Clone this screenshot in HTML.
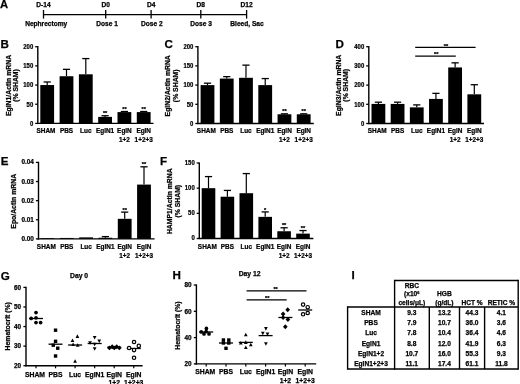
<!DOCTYPE html>
<html><head><meta charset="utf-8"><style>
html,body{margin:0;padding:0;background:#fff;}
body{width:520px;height:384px;overflow:hidden;}
svg{display:block;will-change:transform;}
text{font-family:"Liberation Sans",sans-serif;font-weight:bold;fill:#000;stroke:#000;stroke-width:0.25px;}
line{stroke:#000;stroke-linecap:butt;}
rect,polygon,circle{fill:#000;}
circle.o{fill:#fff;stroke:#000;stroke-width:1.2px;}
</style></head><body>
<svg width="520" height="384" viewBox="0 0 520 384">
<text x="0.00" y="8.30" font-size="11.2" text-anchor="start" >A</text>
<line x1="43.50" y1="14.60" x2="246.60" y2="14.60" stroke-width="1.3"/>
<line x1="43.50" y1="10.00" x2="43.50" y2="18.60" stroke-width="1.3"/>
<text x="43.50" y="7.20" font-size="6.6" text-anchor="middle" >D-14</text>
<text x="46.20" y="26.00" font-size="6.6" text-anchor="middle" >Nephrectomy</text>
<line x1="105.70" y1="10.00" x2="105.70" y2="18.60" stroke-width="1.3"/>
<text x="105.70" y="7.20" font-size="6.6" text-anchor="middle" >D0</text>
<text x="107.00" y="26.00" font-size="6.6" text-anchor="middle" >Dose 1</text>
<line x1="151.10" y1="10.00" x2="151.10" y2="18.60" stroke-width="1.3"/>
<text x="151.10" y="7.20" font-size="6.6" text-anchor="middle" >D4</text>
<text x="151.80" y="26.00" font-size="6.6" text-anchor="middle" >Dose 2</text>
<line x1="200.80" y1="10.00" x2="200.80" y2="18.60" stroke-width="1.3"/>
<text x="200.80" y="7.20" font-size="6.6" text-anchor="middle" >D8</text>
<text x="201.10" y="26.00" font-size="6.6" text-anchor="middle" >Dose 3</text>
<line x1="246.60" y1="10.00" x2="246.60" y2="18.60" stroke-width="1.3"/>
<text x="246.60" y="7.20" font-size="6.6" text-anchor="middle" >D12</text>
<text x="247.00" y="26.00" font-size="6.6" text-anchor="middle" >Bleed, Sac</text>
<text x="0.60" y="48.40" font-size="11.6" text-anchor="start" >B</text>
<line x1="37.80" y1="46.10" x2="37.80" y2="124.00" stroke-width="1.4"/>
<line x1="35.20" y1="123.40" x2="37.80" y2="123.40" stroke-width="1.3"/>
<text transform="translate(33.20,125.75) scale(0.9,1)" font-size="6.6" text-anchor="end" >0</text>
<line x1="35.20" y1="104.23" x2="37.80" y2="104.23" stroke-width="1.3"/>
<text transform="translate(33.20,106.58) scale(0.9,1)" font-size="6.6" text-anchor="end" >50</text>
<line x1="35.20" y1="85.05" x2="37.80" y2="85.05" stroke-width="1.3"/>
<text transform="translate(33.20,87.40) scale(0.9,1)" font-size="6.6" text-anchor="end" >100</text>
<line x1="35.20" y1="65.88" x2="37.80" y2="65.88" stroke-width="1.3"/>
<text transform="translate(33.20,68.22) scale(0.9,1)" font-size="6.6" text-anchor="end" >150</text>
<line x1="35.20" y1="46.70" x2="37.80" y2="46.70" stroke-width="1.3"/>
<text transform="translate(33.20,49.05) scale(0.9,1)" font-size="6.6" text-anchor="end" >200</text>
<rect x="40.30" y="85.05" width="13.80" height="38.35"/>
<line x1="47.20" y1="81.98" x2="47.20" y2="85.05" stroke-width="1.2"/>
<line x1="43.60" y1="81.98" x2="50.80" y2="81.98" stroke-width="1.3"/>
<rect x="59.60" y="76.23" width="13.80" height="47.17"/>
<line x1="66.50" y1="69.33" x2="66.50" y2="76.23" stroke-width="1.2"/>
<line x1="62.90" y1="69.33" x2="70.10" y2="69.33" stroke-width="1.3"/>
<rect x="78.90" y="74.31" width="13.80" height="49.09"/>
<line x1="85.80" y1="58.59" x2="85.80" y2="74.31" stroke-width="1.2"/>
<line x1="82.20" y1="58.59" x2="89.40" y2="58.59" stroke-width="1.3"/>
<rect x="98.20" y="116.88" width="13.80" height="6.52"/>
<line x1="105.10" y1="115.73" x2="105.10" y2="116.88" stroke-width="1.2"/>
<line x1="101.50" y1="115.73" x2="108.70" y2="115.73" stroke-width="1.3"/>
<text x="105.10" y="115.33" font-size="5.6" text-anchor="middle" >**</text>
<rect x="117.50" y="112.09" width="13.80" height="11.31"/>
<line x1="124.40" y1="111.51" x2="124.40" y2="112.09" stroke-width="1.2"/>
<line x1="120.80" y1="111.51" x2="128.00" y2="111.51" stroke-width="1.3"/>
<text x="124.40" y="111.11" font-size="5.6" text-anchor="middle" >**</text>
<rect x="136.80" y="112.09" width="13.80" height="11.31"/>
<line x1="143.70" y1="111.51" x2="143.70" y2="112.09" stroke-width="1.2"/>
<line x1="140.10" y1="111.51" x2="147.30" y2="111.51" stroke-width="1.3"/>
<text x="143.70" y="111.11" font-size="5.6" text-anchor="middle" >**</text>
<line x1="37.10" y1="123.40" x2="153.50" y2="123.40" stroke-width="1.4"/>
<text transform="translate(46.00,133.20) scale(0.93,1)" font-size="6.9" text-anchor="middle" >SHAM</text>
<text transform="translate(66.50,133.20) scale(0.93,1)" font-size="6.9" text-anchor="middle" >PBS</text>
<text transform="translate(85.80,133.20) scale(0.93,1)" font-size="6.9" text-anchor="middle" >Luc</text>
<text transform="translate(105.10,133.20) scale(0.93,1)" font-size="6.9" text-anchor="middle" >EglN1</text>
<text transform="translate(124.40,133.20) scale(0.93,1)" font-size="6.9" text-anchor="middle" >EglN</text>
<text transform="translate(124.40,141.70) scale(0.93,1)" font-size="6.9" text-anchor="middle" >1+2</text>
<text transform="translate(143.70,133.20) scale(0.93,1)" font-size="6.9" text-anchor="middle" >EglN</text>
<text transform="translate(143.70,141.70) scale(0.93,1)" font-size="6.9" text-anchor="middle" >1+2+3</text>
<text transform="translate(10.60,85.50) rotate(-90)" x="0" y="0" font-size="6.85" text-anchor="middle" >EglN1/Actin mRNA</text>
<text transform="translate(17.90,85.50) rotate(-90)" x="0" y="0" font-size="6.85" text-anchor="middle" >(% SHAM)</text>
<text x="164.40" y="48.40" font-size="11.6" text-anchor="start" >C</text>
<line x1="197.90" y1="46.10" x2="197.90" y2="124.10" stroke-width="1.4"/>
<line x1="195.30" y1="123.50" x2="197.90" y2="123.50" stroke-width="1.3"/>
<text transform="translate(193.30,125.85) scale(0.9,1)" font-size="6.6" text-anchor="end" >0</text>
<line x1="195.30" y1="104.30" x2="197.90" y2="104.30" stroke-width="1.3"/>
<text transform="translate(193.30,106.65) scale(0.9,1)" font-size="6.6" text-anchor="end" >50</text>
<line x1="195.30" y1="85.10" x2="197.90" y2="85.10" stroke-width="1.3"/>
<text transform="translate(193.30,87.45) scale(0.9,1)" font-size="6.6" text-anchor="end" >100</text>
<line x1="195.30" y1="65.90" x2="197.90" y2="65.90" stroke-width="1.3"/>
<text transform="translate(193.30,68.25) scale(0.9,1)" font-size="6.6" text-anchor="end" >150</text>
<line x1="195.30" y1="46.70" x2="197.90" y2="46.70" stroke-width="1.3"/>
<text transform="translate(193.30,49.05) scale(0.9,1)" font-size="6.6" text-anchor="end" >200</text>
<rect x="200.60" y="85.10" width="13.80" height="38.40"/>
<line x1="207.50" y1="83.18" x2="207.50" y2="85.10" stroke-width="1.2"/>
<line x1="203.90" y1="83.18" x2="211.10" y2="83.18" stroke-width="1.3"/>
<rect x="219.84" y="78.57" width="13.80" height="44.93"/>
<line x1="226.74" y1="76.65" x2="226.74" y2="78.57" stroke-width="1.2"/>
<line x1="223.14" y1="76.65" x2="230.34" y2="76.65" stroke-width="1.3"/>
<rect x="239.08" y="77.80" width="13.80" height="45.70"/>
<line x1="245.98" y1="65.13" x2="245.98" y2="77.80" stroke-width="1.2"/>
<line x1="242.38" y1="65.13" x2="249.58" y2="65.13" stroke-width="1.3"/>
<rect x="258.32" y="85.10" width="13.80" height="38.40"/>
<line x1="265.22" y1="78.57" x2="265.22" y2="85.10" stroke-width="1.2"/>
<line x1="261.62" y1="78.57" x2="268.82" y2="78.57" stroke-width="1.3"/>
<rect x="277.56" y="114.28" width="13.80" height="9.22"/>
<line x1="284.46" y1="113.82" x2="284.46" y2="114.28" stroke-width="1.2"/>
<line x1="280.86" y1="113.82" x2="288.06" y2="113.82" stroke-width="1.3"/>
<text x="284.46" y="113.42" font-size="5.6" text-anchor="middle" >**</text>
<rect x="296.80" y="114.28" width="13.80" height="9.22"/>
<line x1="303.70" y1="113.82" x2="303.70" y2="114.28" stroke-width="1.2"/>
<line x1="300.10" y1="113.82" x2="307.30" y2="113.82" stroke-width="1.3"/>
<text x="303.70" y="113.42" font-size="5.6" text-anchor="middle" >**</text>
<line x1="197.20" y1="123.50" x2="313.80" y2="123.50" stroke-width="1.4"/>
<text transform="translate(206.30,133.20) scale(0.93,1)" font-size="6.9" text-anchor="middle" >SHAM</text>
<text transform="translate(226.74,133.20) scale(0.93,1)" font-size="6.9" text-anchor="middle" >PBS</text>
<text transform="translate(245.98,133.20) scale(0.93,1)" font-size="6.9" text-anchor="middle" >Luc</text>
<text transform="translate(265.22,133.20) scale(0.93,1)" font-size="6.9" text-anchor="middle" >EglN1</text>
<text transform="translate(284.46,133.20) scale(0.93,1)" font-size="6.9" text-anchor="middle" >EglN</text>
<text transform="translate(284.46,141.70) scale(0.93,1)" font-size="6.9" text-anchor="middle" >1+2</text>
<text transform="translate(303.70,133.20) scale(0.93,1)" font-size="6.9" text-anchor="middle" >EglN</text>
<text transform="translate(303.70,141.70) scale(0.93,1)" font-size="6.9" text-anchor="middle" >1+2+3</text>
<text transform="translate(170.20,85.80) rotate(-90)" x="0" y="0" font-size="6.85" text-anchor="middle" >EglN2/Actin mRNA</text>
<text transform="translate(177.70,85.80) rotate(-90)" x="0" y="0" font-size="6.85" text-anchor="middle" >(% SHAM)</text>
<text x="335.40" y="48.40" font-size="11.6" text-anchor="start" >D</text>
<line x1="368.80" y1="46.10" x2="368.80" y2="124.10" stroke-width="1.4"/>
<line x1="366.20" y1="123.50" x2="368.80" y2="123.50" stroke-width="1.3"/>
<text transform="translate(364.20,125.85) scale(0.9,1)" font-size="6.6" text-anchor="end" >0</text>
<line x1="366.20" y1="104.30" x2="368.80" y2="104.30" stroke-width="1.3"/>
<text transform="translate(364.20,106.65) scale(0.9,1)" font-size="6.6" text-anchor="end" >100</text>
<line x1="366.20" y1="85.10" x2="368.80" y2="85.10" stroke-width="1.3"/>
<text transform="translate(364.20,87.45) scale(0.9,1)" font-size="6.6" text-anchor="end" >200</text>
<line x1="366.20" y1="65.90" x2="368.80" y2="65.90" stroke-width="1.3"/>
<text transform="translate(364.20,68.25) scale(0.9,1)" font-size="6.6" text-anchor="end" >300</text>
<line x1="366.20" y1="46.70" x2="368.80" y2="46.70" stroke-width="1.3"/>
<text transform="translate(364.20,49.05) scale(0.9,1)" font-size="6.6" text-anchor="end" >400</text>
<rect x="371.50" y="103.92" width="13.80" height="19.58"/>
<line x1="378.40" y1="102.19" x2="378.40" y2="103.92" stroke-width="1.2"/>
<line x1="374.80" y1="102.19" x2="382.00" y2="102.19" stroke-width="1.3"/>
<rect x="390.68" y="103.92" width="13.80" height="19.58"/>
<line x1="397.58" y1="102.19" x2="397.58" y2="103.92" stroke-width="1.2"/>
<line x1="393.98" y1="102.19" x2="401.18" y2="102.19" stroke-width="1.3"/>
<rect x="409.86" y="107.37" width="13.80" height="16.13"/>
<line x1="416.76" y1="104.88" x2="416.76" y2="107.37" stroke-width="1.2"/>
<line x1="413.16" y1="104.88" x2="420.36" y2="104.88" stroke-width="1.3"/>
<rect x="429.04" y="98.92" width="13.80" height="24.58"/>
<line x1="435.94" y1="93.36" x2="435.94" y2="98.92" stroke-width="1.2"/>
<line x1="432.34" y1="93.36" x2="439.54" y2="93.36" stroke-width="1.3"/>
<rect x="448.22" y="67.44" width="13.80" height="56.06"/>
<line x1="455.12" y1="62.83" x2="455.12" y2="67.44" stroke-width="1.2"/>
<line x1="451.52" y1="62.83" x2="458.72" y2="62.83" stroke-width="1.3"/>
<rect x="467.40" y="94.32" width="13.80" height="29.18"/>
<line x1="474.30" y1="84.72" x2="474.30" y2="94.32" stroke-width="1.2"/>
<line x1="470.70" y1="84.72" x2="477.90" y2="84.72" stroke-width="1.3"/>
<line x1="368.10" y1="123.50" x2="484.00" y2="123.50" stroke-width="1.4"/>
<text transform="translate(377.20,133.20) scale(0.93,1)" font-size="6.9" text-anchor="middle" >SHAM</text>
<text transform="translate(397.58,133.20) scale(0.93,1)" font-size="6.9" text-anchor="middle" >PBS</text>
<text transform="translate(416.76,133.20) scale(0.93,1)" font-size="6.9" text-anchor="middle" >Luc</text>
<text transform="translate(435.94,133.20) scale(0.93,1)" font-size="6.9" text-anchor="middle" >EglN1</text>
<text transform="translate(455.12,133.20) scale(0.93,1)" font-size="6.9" text-anchor="middle" >EglN</text>
<text transform="translate(455.12,141.70) scale(0.93,1)" font-size="6.9" text-anchor="middle" >1+2</text>
<text transform="translate(474.30,133.20) scale(0.93,1)" font-size="6.9" text-anchor="middle" >EglN</text>
<text transform="translate(474.30,141.70) scale(0.93,1)" font-size="6.9" text-anchor="middle" >1+2+3</text>
<text transform="translate(340.60,85.30) rotate(-90)" x="0" y="0" font-size="6.85" text-anchor="middle" >EglN3/Actin mRNA</text>
<text transform="translate(347.80,85.30) rotate(-90)" x="0" y="0" font-size="6.85" text-anchor="middle" >(% SHAM)</text>
<line x1="415.20" y1="47.30" x2="475.60" y2="47.30" stroke-width="1.3"/>
<text x="445.90" y="47.80" font-size="5.6" text-anchor="middle" >**</text>
<line x1="415.20" y1="56.20" x2="455.80" y2="56.20" stroke-width="1.3"/>
<text x="436.30" y="56.40" font-size="5.6" text-anchor="middle" >**</text>
<text x="0.80" y="164.90" font-size="11.6" text-anchor="start" >E</text>
<line x1="38.50" y1="161.80" x2="38.50" y2="239.50" stroke-width="1.4"/>
<line x1="35.90" y1="238.90" x2="38.50" y2="238.90" stroke-width="1.3"/>
<text transform="translate(33.90,240.90) scale(0.97,1)" font-size="6.6" text-anchor="end" >0.00</text>
<line x1="35.90" y1="219.78" x2="38.50" y2="219.78" stroke-width="1.3"/>
<text transform="translate(33.90,221.78) scale(0.97,1)" font-size="6.6" text-anchor="end" >0.01</text>
<line x1="35.90" y1="200.65" x2="38.50" y2="200.65" stroke-width="1.3"/>
<text transform="translate(33.90,202.65) scale(0.97,1)" font-size="6.6" text-anchor="end" >0.02</text>
<line x1="35.90" y1="181.53" x2="38.50" y2="181.53" stroke-width="1.3"/>
<text transform="translate(33.90,183.53) scale(0.97,1)" font-size="6.6" text-anchor="end" >0.03</text>
<line x1="35.90" y1="162.40" x2="38.50" y2="162.40" stroke-width="1.3"/>
<text transform="translate(33.90,164.40) scale(0.97,1)" font-size="6.6" text-anchor="end" >0.04</text>
<rect x="40.60" y="238.14" width="13.80" height="0.76"/>
<rect x="59.90" y="237.94" width="13.80" height="0.96"/>
<rect x="79.20" y="237.37" width="13.80" height="1.53"/>
<rect x="98.50" y="237.75" width="13.80" height="1.15"/>
<line x1="105.40" y1="236.61" x2="105.40" y2="237.75" stroke-width="1.2"/>
<line x1="101.80" y1="236.61" x2="109.00" y2="236.61" stroke-width="1.3"/>
<rect x="117.80" y="218.82" width="13.80" height="20.08"/>
<line x1="124.70" y1="212.12" x2="124.70" y2="218.82" stroke-width="1.2"/>
<line x1="121.10" y1="212.12" x2="128.30" y2="212.12" stroke-width="1.3"/>
<text x="124.70" y="211.73" font-size="5.6" text-anchor="middle" >**</text>
<rect x="137.10" y="184.59" width="13.80" height="54.31"/>
<line x1="144.00" y1="166.80" x2="144.00" y2="184.59" stroke-width="1.2"/>
<line x1="140.40" y1="166.80" x2="147.60" y2="166.80" stroke-width="1.3"/>
<text x="144.00" y="166.40" font-size="5.6" text-anchor="middle" >**</text>
<line x1="37.80" y1="238.90" x2="154.60" y2="238.90" stroke-width="1.4"/>
<text transform="translate(46.30,248.90) scale(0.93,1)" font-size="6.9" text-anchor="middle" >SHAM</text>
<text transform="translate(66.80,248.90) scale(0.93,1)" font-size="6.9" text-anchor="middle" >PBS</text>
<text transform="translate(86.10,248.90) scale(0.93,1)" font-size="6.9" text-anchor="middle" >Luc</text>
<text transform="translate(105.40,248.90) scale(0.93,1)" font-size="6.9" text-anchor="middle" >EglN1</text>
<text transform="translate(124.70,248.90) scale(0.93,1)" font-size="6.9" text-anchor="middle" >EglN</text>
<text transform="translate(124.70,257.80) scale(0.93,1)" font-size="6.9" text-anchor="middle" >1+2</text>
<text transform="translate(144.00,248.90) scale(0.93,1)" font-size="6.9" text-anchor="middle" >EglN</text>
<text transform="translate(144.00,257.80) scale(0.93,1)" font-size="6.9" text-anchor="middle" >1+2+3</text>
<text transform="translate(15.80,201.30) rotate(-90)" x="0" y="0" font-size="6.85" text-anchor="middle" >Epo/Actin mRNA</text>
<text x="159.90" y="164.90" font-size="11.6" text-anchor="start" >F</text>
<line x1="199.30" y1="162.40" x2="199.30" y2="239.10" stroke-width="1.4"/>
<line x1="196.70" y1="238.50" x2="199.30" y2="238.50" stroke-width="1.3"/>
<text transform="translate(194.70,240.00) scale(0.9,1)" font-size="6.6" text-anchor="end" >0</text>
<line x1="196.70" y1="213.33" x2="199.30" y2="213.33" stroke-width="1.3"/>
<text transform="translate(194.70,214.83) scale(0.9,1)" font-size="6.6" text-anchor="end" >50</text>
<line x1="196.70" y1="188.17" x2="199.30" y2="188.17" stroke-width="1.3"/>
<text transform="translate(194.70,189.67) scale(0.9,1)" font-size="6.6" text-anchor="end" >100</text>
<line x1="196.70" y1="163.00" x2="199.30" y2="163.00" stroke-width="1.3"/>
<text transform="translate(194.70,164.50) scale(0.9,1)" font-size="6.6" text-anchor="end" >150</text>
<rect x="201.70" y="188.17" width="13.60" height="50.33"/>
<line x1="208.50" y1="176.59" x2="208.50" y2="188.17" stroke-width="1.2"/>
<line x1="204.90" y1="176.59" x2="212.10" y2="176.59" stroke-width="1.3"/>
<rect x="220.60" y="196.72" width="13.60" height="41.78"/>
<line x1="227.40" y1="190.43" x2="227.40" y2="196.72" stroke-width="1.2"/>
<line x1="223.80" y1="190.43" x2="231.00" y2="190.43" stroke-width="1.3"/>
<rect x="239.50" y="193.20" width="13.60" height="45.30"/>
<line x1="246.30" y1="173.57" x2="246.30" y2="193.20" stroke-width="1.2"/>
<line x1="242.70" y1="173.57" x2="249.90" y2="173.57" stroke-width="1.3"/>
<rect x="258.40" y="216.86" width="13.60" height="21.64"/>
<line x1="265.20" y1="211.92" x2="265.20" y2="216.86" stroke-width="1.2"/>
<line x1="261.60" y1="211.92" x2="268.80" y2="211.92" stroke-width="1.3"/>
<text x="265.20" y="211.52" font-size="5.6" text-anchor="middle" >*</text>
<rect x="277.30" y="231.25" width="13.60" height="7.25"/>
<line x1="284.10" y1="227.78" x2="284.10" y2="231.25" stroke-width="1.2"/>
<line x1="280.50" y1="227.78" x2="287.70" y2="227.78" stroke-width="1.3"/>
<text x="284.10" y="227.38" font-size="5.6" text-anchor="middle" >**</text>
<rect x="296.20" y="233.62" width="13.60" height="4.88"/>
<line x1="303.00" y1="230.55" x2="303.00" y2="233.62" stroke-width="1.2"/>
<line x1="299.40" y1="230.55" x2="306.60" y2="230.55" stroke-width="1.3"/>
<text x="303.00" y="230.15" font-size="5.6" text-anchor="middle" >**</text>
<line x1="198.60" y1="238.50" x2="313.40" y2="238.50" stroke-width="1.4"/>
<text transform="translate(207.30,248.90) scale(0.93,1)" font-size="6.9" text-anchor="middle" >SHAM</text>
<text transform="translate(227.40,248.90) scale(0.93,1)" font-size="6.9" text-anchor="middle" >PBS</text>
<text transform="translate(246.30,248.90) scale(0.93,1)" font-size="6.9" text-anchor="middle" >Luc</text>
<text transform="translate(265.20,248.90) scale(0.93,1)" font-size="6.9" text-anchor="middle" >EglN1</text>
<text transform="translate(284.10,248.90) scale(0.93,1)" font-size="6.9" text-anchor="middle" >EglN</text>
<text transform="translate(284.10,257.80) scale(0.93,1)" font-size="6.9" text-anchor="middle" >1+2</text>
<text transform="translate(303.00,248.90) scale(0.93,1)" font-size="6.9" text-anchor="middle" >EglN</text>
<text transform="translate(303.00,257.80) scale(0.93,1)" font-size="6.9" text-anchor="middle" >1+2+3</text>
<text transform="translate(172.00,201.20) rotate(-90)" x="0" y="0" font-size="6.85" text-anchor="middle" >HAMP1/Actin mRNA</text>
<text transform="translate(179.60,201.20) rotate(-90)" x="0" y="0" font-size="6.85" text-anchor="middle" >(% SHAM)</text>
<text x="0.80" y="280.00" font-size="11.6" text-anchor="start" >G</text>
<text x="79.10" y="278.20" font-size="6.8" text-anchor="middle" >Day 0</text>
<line x1="26.00" y1="286.80" x2="26.00" y2="366.30" stroke-width="1.4"/>
<line x1="23.40" y1="365.70" x2="26.00" y2="365.70" stroke-width="1.3"/>
<text x="21.10" y="368.00" font-size="6.4" text-anchor="end" >20</text>
<line x1="23.40" y1="346.12" x2="26.00" y2="346.12" stroke-width="1.3"/>
<text x="21.10" y="348.43" font-size="6.4" text-anchor="end" >30</text>
<line x1="23.40" y1="326.55" x2="26.00" y2="326.55" stroke-width="1.3"/>
<text x="21.10" y="328.85" font-size="6.4" text-anchor="end" >40</text>
<line x1="23.40" y1="306.97" x2="26.00" y2="306.97" stroke-width="1.3"/>
<text x="21.10" y="309.27" font-size="6.4" text-anchor="end" >50</text>
<line x1="23.40" y1="287.40" x2="26.00" y2="287.40" stroke-width="1.3"/>
<text x="21.10" y="289.70" font-size="6.4" text-anchor="end" >60</text>
<line x1="25.30" y1="365.70" x2="142.60" y2="365.70" stroke-width="1.4"/>
<line x1="36.00" y1="365.70" x2="36.00" y2="368.30" stroke-width="1.2"/>
<text x="35.00" y="376.50" font-size="6.8" text-anchor="middle" >SHAM</text>
<line x1="55.55" y1="365.70" x2="55.55" y2="368.30" stroke-width="1.2"/>
<text x="55.55" y="376.50" font-size="6.8" text-anchor="middle" >PBS</text>
<line x1="75.10" y1="365.70" x2="75.10" y2="368.30" stroke-width="1.2"/>
<text x="75.10" y="376.50" font-size="6.8" text-anchor="middle" >Luc</text>
<line x1="94.65" y1="365.70" x2="94.65" y2="368.30" stroke-width="1.2"/>
<text x="94.65" y="376.50" font-size="6.8" text-anchor="middle" >EglN1</text>
<line x1="114.20" y1="365.70" x2="114.20" y2="368.30" stroke-width="1.2"/>
<text x="114.20" y="376.50" font-size="6.8" text-anchor="middle" >EglN</text>
<text x="114.20" y="384.60" font-size="6.8" text-anchor="middle" >1+2</text>
<line x1="133.75" y1="365.70" x2="133.75" y2="368.30" stroke-width="1.2"/>
<text x="133.75" y="376.50" font-size="6.8" text-anchor="middle" >EglN</text>
<text x="133.75" y="384.60" font-size="6.8" text-anchor="middle" >1+2+3</text>
<circle cx="36.00" cy="312.60" r="1.85"/>
<circle cx="31.20" cy="318.40" r="1.85"/>
<circle cx="36.00" cy="317.80" r="1.85"/>
<circle cx="36.00" cy="322.60" r="1.85"/>
<circle cx="40.60" cy="322.60" r="1.85"/>
<line x1="29.00" y1="318.50" x2="43.00" y2="318.50" stroke-width="1.3"/>
<rect x="53.85" y="328.50" width="3.40" height="3.40"/>
<rect x="53.85" y="339.60" width="3.40" height="3.40"/>
<rect x="51.55" y="343.50" width="3.40" height="3.40"/>
<rect x="56.05" y="346.50" width="3.40" height="3.40"/>
<rect x="53.85" y="354.30" width="3.40" height="3.40"/>
<line x1="48.55" y1="344.20" x2="62.55" y2="344.20" stroke-width="1.3"/>
<polygon points="77.40,334.35 79.26,337.89 75.54,337.89"/>
<polygon points="72.50,338.55 74.36,342.09 70.64,342.09"/>
<polygon points="73.10,342.55 74.96,346.09 71.24,346.09"/>
<polygon points="77.70,343.15 79.56,346.69 75.84,346.69"/>
<polygon points="75.10,359.15 76.96,362.69 73.24,362.69"/>
<line x1="68.10" y1="345.00" x2="82.10" y2="345.00" stroke-width="1.3"/>
<polygon points="94.65,339.45 96.51,335.91 92.79,335.91"/>
<polygon points="90.05,344.75 91.91,341.21 88.19,341.21"/>
<polygon points="99.25,342.95 101.11,339.41 97.39,339.41"/>
<polygon points="94.65,346.35 96.51,342.81 92.79,342.81"/>
<polygon points="94.65,350.85 96.51,347.31 92.79,347.31"/>
<line x1="87.65" y1="343.50" x2="101.65" y2="343.50" stroke-width="1.3"/>
<polygon points="109.40,345.45 111.73,347.90 109.40,350.35 107.07,347.90"/>
<polygon points="112.20,344.25 114.53,346.70 112.20,349.15 109.87,346.70"/>
<polygon points="114.30,345.45 116.63,347.90 114.30,350.35 111.97,347.90"/>
<polygon points="116.70,344.25 119.03,346.70 116.70,349.15 114.37,346.70"/>
<polygon points="119.30,345.45 121.63,347.90 119.30,350.35 116.97,347.90"/>
<line x1="107.20" y1="347.20" x2="121.20" y2="347.20" stroke-width="1.3"/>
<line x1="126.75" y1="348.50" x2="140.75" y2="348.50" stroke-width="1.3"/>
<circle class="o" cx="134.05" cy="342.00" r="1.7"/>
<circle class="o" cx="138.80" cy="345.90" r="1.7"/>
<circle class="o" cx="129.10" cy="348.00" r="1.7"/>
<circle class="o" cx="134.05" cy="350.10" r="1.7"/>
<circle class="o" cx="134.05" cy="357.80" r="1.7"/>
<text transform="translate(10.00,326.30) rotate(-90)" x="0" y="0" font-size="6.85" text-anchor="middle" >Hematocrit (%)</text>
<text x="172.60" y="279.40" font-size="11.6" text-anchor="start" >H</text>
<text x="249.60" y="275.90" font-size="6.8" text-anchor="middle" >Day 12</text>
<line x1="196.40" y1="284.40" x2="196.40" y2="364.50" stroke-width="1.4"/>
<line x1="193.80" y1="363.90" x2="196.40" y2="363.90" stroke-width="1.3"/>
<text x="191.50" y="366.20" font-size="6.4" text-anchor="end" >20</text>
<line x1="193.80" y1="337.60" x2="196.40" y2="337.60" stroke-width="1.3"/>
<text x="191.50" y="339.90" font-size="6.4" text-anchor="end" >40</text>
<line x1="193.80" y1="311.30" x2="196.40" y2="311.30" stroke-width="1.3"/>
<text x="191.50" y="313.60" font-size="6.4" text-anchor="end" >60</text>
<line x1="193.80" y1="285.00" x2="196.40" y2="285.00" stroke-width="1.3"/>
<text x="191.50" y="287.30" font-size="6.4" text-anchor="end" >80</text>
<line x1="195.70" y1="363.90" x2="316.20" y2="363.90" stroke-width="1.4"/>
<line x1="206.20" y1="363.90" x2="206.20" y2="366.50" stroke-width="1.2"/>
<text x="205.20" y="374.10" font-size="6.8" text-anchor="middle" >SHAM</text>
<line x1="226.00" y1="363.90" x2="226.00" y2="366.50" stroke-width="1.2"/>
<text x="226.00" y="374.10" font-size="6.8" text-anchor="middle" >PBS</text>
<line x1="245.80" y1="363.90" x2="245.80" y2="366.50" stroke-width="1.2"/>
<text x="245.80" y="374.10" font-size="6.8" text-anchor="middle" >Luc</text>
<line x1="265.60" y1="363.90" x2="265.60" y2="366.50" stroke-width="1.2"/>
<text x="265.60" y="374.10" font-size="6.8" text-anchor="middle" >EglN1</text>
<line x1="285.40" y1="363.90" x2="285.40" y2="366.50" stroke-width="1.2"/>
<text x="285.40" y="374.10" font-size="6.8" text-anchor="middle" >EglN</text>
<text x="285.40" y="382.60" font-size="6.8" text-anchor="middle" >1+2</text>
<line x1="305.20" y1="363.90" x2="305.20" y2="366.50" stroke-width="1.2"/>
<text x="305.20" y="374.10" font-size="6.8" text-anchor="middle" >EglN</text>
<text x="305.20" y="382.60" font-size="6.8" text-anchor="middle" >1+2+3</text>
<circle cx="206.40" cy="328.40" r="1.85"/>
<circle cx="201.20" cy="331.90" r="1.85"/>
<circle cx="204.00" cy="333.90" r="1.85"/>
<circle cx="209.00" cy="333.90" r="1.85"/>
<circle cx="206.20" cy="331.60" r="1.85"/>
<line x1="199.20" y1="332.00" x2="213.20" y2="332.00" stroke-width="1.3"/>
<rect x="221.70" y="338.30" width="3.40" height="3.40"/>
<rect x="227.10" y="338.30" width="3.40" height="3.40"/>
<rect x="221.70" y="341.30" width="3.40" height="3.40"/>
<rect x="227.10" y="341.30" width="3.40" height="3.40"/>
<rect x="224.30" y="346.60" width="3.40" height="3.40"/>
<line x1="219.00" y1="343.00" x2="233.00" y2="343.00" stroke-width="1.3"/>
<polygon points="245.80,332.65 247.66,336.19 243.94,336.19"/>
<polygon points="240.80,340.95 242.66,344.49 238.94,344.49"/>
<polygon points="245.80,340.35 247.66,343.89 243.94,343.89"/>
<polygon points="250.80,342.65 252.66,346.19 248.94,346.19"/>
<polygon points="245.80,345.45 247.66,348.99 243.94,348.99"/>
<line x1="238.80" y1="342.40" x2="252.80" y2="342.40" stroke-width="1.3"/>
<polygon points="265.90,330.65 267.76,327.11 264.04,327.11"/>
<polygon points="262.80,335.25 264.66,331.71 260.94,331.71"/>
<polygon points="267.50,336.05 269.36,332.51 265.64,332.51"/>
<polygon points="265.90,345.75 267.76,342.21 264.04,342.21"/>
<line x1="258.60" y1="335.60" x2="272.60" y2="335.60" stroke-width="1.3"/>
<polygon points="287.70,307.35 290.03,309.80 287.70,312.25 285.37,309.80"/>
<polygon points="283.10,311.55 285.43,314.00 283.10,316.45 280.77,314.00"/>
<polygon points="287.90,317.05 290.23,319.50 287.90,321.95 285.57,319.50"/>
<polygon points="283.10,315.15 285.43,317.60 283.10,320.05 280.77,317.60"/>
<polygon points="285.30,324.25 287.63,326.70 285.30,329.15 282.97,326.70"/>
<line x1="278.40" y1="317.50" x2="292.40" y2="317.50" stroke-width="1.3"/>
<line x1="298.20" y1="310.00" x2="312.20" y2="310.00" stroke-width="1.3"/>
<circle class="o" cx="303.10" cy="304.60" r="1.7"/>
<circle class="o" cx="307.70" cy="307.20" r="1.7"/>
<circle class="o" cx="307.70" cy="313.00" r="1.7"/>
<circle class="o" cx="303.10" cy="314.30" r="1.7"/>
<text transform="translate(180.20,325.50) rotate(-90)" x="0" y="0" font-size="6.85" text-anchor="middle" >Hematocrit (%)</text>
<line x1="246.60" y1="290.90" x2="306.50" y2="290.90" stroke-width="1.3"/>
<text x="275.60" y="291.30" font-size="5.6" text-anchor="middle" >**</text>
<line x1="246.60" y1="299.80" x2="286.70" y2="299.80" stroke-width="1.3"/>
<text x="267.30" y="300.10" font-size="5.6" text-anchor="middle" >**</text>
<text x="351.40" y="278.70" font-size="11.6" text-anchor="start" >I</text>
<line x1="394.60" y1="280.50" x2="518.20" y2="280.50" stroke-width="1.4"/>
<line x1="518.20" y1="279.80" x2="518.20" y2="369.70" stroke-width="1.4"/>
<line x1="394.60" y1="279.80" x2="394.60" y2="369.70" stroke-width="1.4"/>
<line x1="347.60" y1="307.00" x2="518.20" y2="307.00" stroke-width="1.6"/>
<line x1="347.60" y1="306.20" x2="347.60" y2="369.70" stroke-width="1.4"/>
<line x1="347.60" y1="369.00" x2="518.20" y2="369.00" stroke-width="1.4"/>
<line x1="429.30" y1="307.00" x2="429.30" y2="369.00" stroke-width="1.4"/>
<line x1="459.50" y1="307.00" x2="459.50" y2="369.00" stroke-width="1.4"/>
<line x1="484.60" y1="307.00" x2="484.60" y2="369.00" stroke-width="1.4"/>
<text x="411.80" y="287.80" font-size="6.6" text-anchor="middle" >RBC</text>
<text x="411.80" y="296.20" font-size="6.6" text-anchor="middle" >(x10<tspan font-size='4' dy='-2.4'>6</tspan></text>
<text x="411.80" y="304.60" font-size="6.6" text-anchor="middle" >cells/&#956;L)</text>
<text x="444.40" y="296.20" font-size="6.6" text-anchor="middle" >HGB</text>
<text x="444.40" y="304.60" font-size="6.6" text-anchor="middle" >(g/dL)</text>
<text x="472.00" y="304.60" font-size="6.6" text-anchor="middle" >HCT %</text>
<text x="501.40" y="304.60" font-size="6.6" text-anchor="middle" >RETIC %</text>
<text x="371.00" y="314.60" font-size="6.6" text-anchor="middle" >SHAM</text>
<text x="411.80" y="314.60" font-size="6.6" text-anchor="middle" >9.3</text>
<text x="444.40" y="314.60" font-size="6.6" text-anchor="middle" >13.2</text>
<text x="472.00" y="314.60" font-size="6.6" text-anchor="middle" >44.3</text>
<text x="501.40" y="314.60" font-size="6.6" text-anchor="middle" >4.1</text>
<text x="371.00" y="324.90" font-size="6.6" text-anchor="middle" >PBS</text>
<text x="411.80" y="324.90" font-size="6.6" text-anchor="middle" >7.9</text>
<text x="444.40" y="324.90" font-size="6.6" text-anchor="middle" >10.7</text>
<text x="472.00" y="324.90" font-size="6.6" text-anchor="middle" >36.0</text>
<text x="501.40" y="324.90" font-size="6.6" text-anchor="middle" >3.6</text>
<text x="371.00" y="335.20" font-size="6.6" text-anchor="middle" >Luc</text>
<text x="411.80" y="335.20" font-size="6.6" text-anchor="middle" >7.8</text>
<text x="444.40" y="335.20" font-size="6.6" text-anchor="middle" >10.4</text>
<text x="472.00" y="335.20" font-size="6.6" text-anchor="middle" >36.4</text>
<text x="501.40" y="335.20" font-size="6.6" text-anchor="middle" >4.6</text>
<text x="371.00" y="345.50" font-size="6.6" text-anchor="middle" >EglN1</text>
<text x="411.80" y="345.50" font-size="6.6" text-anchor="middle" >8.8</text>
<text x="444.40" y="345.50" font-size="6.6" text-anchor="middle" >12.0</text>
<text x="472.00" y="345.50" font-size="6.6" text-anchor="middle" >41.9</text>
<text x="501.40" y="345.50" font-size="6.6" text-anchor="middle" >6.3</text>
<text x="371.00" y="355.80" font-size="6.6" text-anchor="middle" >EglN1+2</text>
<text x="411.80" y="355.80" font-size="6.6" text-anchor="middle" >10.7</text>
<text x="444.40" y="355.80" font-size="6.6" text-anchor="middle" >16.0</text>
<text x="472.00" y="355.80" font-size="6.6" text-anchor="middle" >55.3</text>
<text x="501.40" y="355.80" font-size="6.6" text-anchor="middle" >9.3</text>
<text x="371.00" y="366.10" font-size="6.6" text-anchor="middle" >EglN1+2+3</text>
<text x="411.80" y="366.10" font-size="6.6" text-anchor="middle" >11.1</text>
<text x="444.40" y="366.10" font-size="6.6" text-anchor="middle" >17.4</text>
<text x="472.00" y="366.10" font-size="6.6" text-anchor="middle" >61.1</text>
<text x="501.40" y="366.10" font-size="6.6" text-anchor="middle" >11.8</text>
</svg>
</body></html>
